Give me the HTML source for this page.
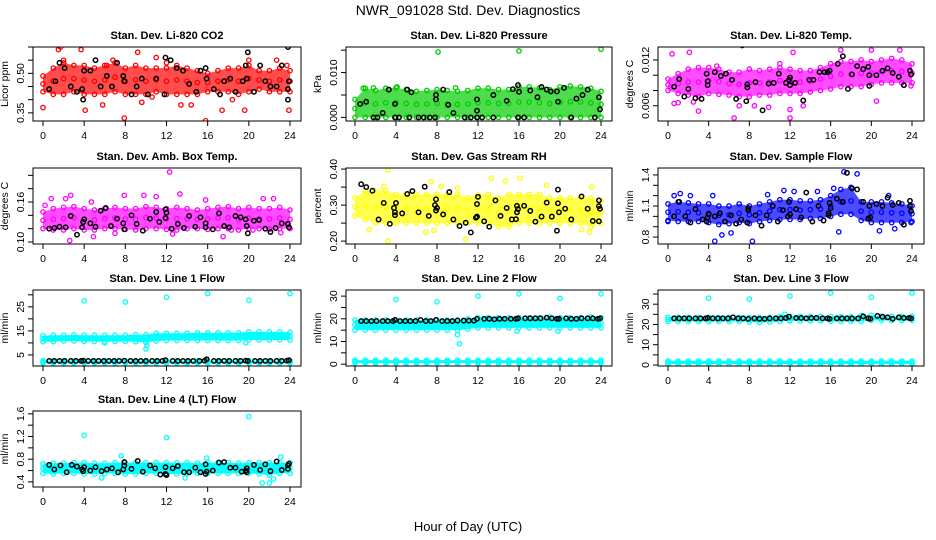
<!DOCTYPE html>
<html><head><meta charset="utf-8"><style>
html,body{margin:0;padding:0;background:#fff;}
svg{display:block;font-family:"Liberation Sans",sans-serif;}
</style></head><body>
<svg id="c" width="936" height="540" viewBox="0 0 936 540">
<text x="468" y="15" font-size="14" text-anchor="middle">NWR_091028  Std. Dev. Diagnostics</text>
<text x="468" y="531" font-size="13" text-anchor="middle">Hour of Day (UTC)</text>
</svg>
<script>
const hours=[0,1,2,3,4,5,6,7,8,9,10,11,12,13,14,15,16,17,18,19,20,21,22,23,24];
const xTicks=[0,4,8,12,16,20,24];
const lineHours=[0.6,1.1,1.6,2.1,2.7,3.2,3.7,3.9,4.4,4.9,5.4,5.9,6.4,6.9,7.4,7.9,8.5,9.0,9.5,10.0,10.6,11.1,11.6,11.9,12.6,13.1,13.6,14.1,14.6,15.2,15.7,15.9,16.6,17.1,17.6,18.1,18.7,19.2,19.7,19.9,20.6,21.1,21.6,22.1,22.7,23.2,23.7,23.9];

const co2Low=[0.43,0.42,0.42,0.43,0.42,0.42,0.42,0.43,0.42,0.42,0.42,0.43,0.42,0.42,0.42,0.42,0.43,0.43,0.43,0.42,0.43,0.44,0.43,0.43,0.43];
const co2High=[0.49,0.52,0.54,0.53,0.53,0.52,0.53,0.54,0.52,0.53,0.52,0.52,0.52,0.53,0.52,0.51,0.50,0.51,0.52,0.52,0.53,0.51,0.51,0.52,0.51];
const co2Out=[[0,0.37],[1.5,0.59],[1.7,0.6],[3.7,0.59],[4.1,0.36],[6.8,0.55],[7.9,0.33],[9.2,0.58],[11,0.56],[12,0.54],[15.8,0.32],[17.4,0.36],[19.6,0.36],[20,0.55],[23.9,0.36],[13.4,0.38],[14.4,0.38],[9.6,0.39],[5.8,0.38],[23.7,0.53],[22.7,0.55],[2,0.55],[6.2,0.53],[10.6,0.41],[18.4,0.4]];
const co2Black=[[0.6,0.44],[1.2,0.47],[1.6,0.54],[2.1,0.52],[2.7,0.45],[3.3,0.43],[3.8,0.44],[3.9,0.40],[4,0.51],[4.6,0.51],[5.1,0.55],[5.6,0.45],[6.2,0.49],[6.7,0.45],[7.2,0.54],[7.8,0.49],[7.9,0.47],[8.6,0.42],[9.1,0.45],[9.6,0.48],[10.2,0.42],[11,0.48],[11.8,0.42],[11.9,0.56],[12.4,0.55],[13,0.52],[13.6,0.51],[14.2,0.46],[14.9,0.43],[15.3,0.51],[15.8,0.52],[15.9,0.48],[16.6,0.44],[17.2,0.42],[17.6,0.47],[18.2,0.48],[18.7,0.43],[19.4,0.47],[19.8,0.48],[19.7,0.53],[19.9,0.58],[20.5,0.43],[21.1,0.53],[21.6,0.47],[22.1,0.45],[22.7,0.45],[23.2,0.53],[23.8,0.44],[23.9,0.47],[23.8,0.40],[23.8,0.60]];

const presLow=[0,0,0,0,0,0,0,0,0,0,0,0,0,0,0,0,0,0,0,0,0,0,0,0,0];
const presHigh=[0.004,0.0065,0.006,0.0065,0.0066,0.0062,0.0058,0.006,0.0062,0.006,0.0058,0.006,0.0065,0.0065,0.0062,0.0062,0.0068,0.0068,0.0066,0.0062,0.0068,0.007,0.0068,0.0065,0.0058];
const presOut=[[8.1,0.0146],[16,0.0148],[24,0.0152],[0.8,0.0065],[1.8,0.0066],[4.1,0.0068],[9.8,0.0066]];
const presBlack=[[1.8,0],[2.2,0],[3.9,0],[4.3,0],[5.3,0],[6.2,0],[6.7,0],[7.3,0],[7.8,0],[10.7,0],[11.3,0],[11.9,0],[12.4,0],[13.5,0],[15.9,0],[16.5,0],[21.1,0],[23.4,0],[0.5,0.003],[1.1,0.0035],[2.7,0.001],[3.3,0.0062],[3.9,0.003],[5.1,0.0062],[5.5,0.0056],[7.9,0.004],[7.9,0.005],[8.6,0.0062],[9.1,0.0028],[9.6,0.001],[11.9,0.004],[11.9,0.0015],[13.5,0.005],[14.8,0.0037],[15.4,0.0063],[15.9,0.0072],[16,0.0057],[17.1,0.006],[17.8,0.0045],[18.2,0.0068],[18.7,0.0062],[19.1,0.0058],[19.7,0.0058],[19.8,0.0035],[20.4,0.0066],[21.6,0.0042],[22.2,0.005],[22.7,0.0062],[23.8,0.0045],[23.9,0.0018]];

const tempLow=[0.008,0.0076,0.0074,0.0072,0.0076,0.0075,0.0074,0.0072,0.0072,0.0074,0.0074,0.0076,0.0076,0.0076,0.0078,0.008,0.0082,0.0085,0.0085,0.0085,0.0088,0.009,0.009,0.009,0.009];
const tempHigh=[0.0095,0.0102,0.0108,0.011,0.011,0.0108,0.0104,0.0104,0.0108,0.0106,0.0108,0.011,0.0108,0.0106,0.0106,0.011,0.0115,0.0118,0.0118,0.012,0.0118,0.012,0.0122,0.012,0.0115];
const tempOut=[[0.4,0.0128],[2.1,0.013],[3,0.0053],[0.6,0.0063],[1,0.0064],[6.5,0.0044],[7,0.006],[8.5,0.006],[9.9,0.0058],[12,0.0044],[12,0.0055],[12.3,0.013],[17,0.0133],[20,0.0133],[20.5,0.0066],[22.8,0.0133],[23.9,0.0086],[13.3,0.006],[2.5,0.0065],[4.8,0.0112],[11,0.0115]];
const tempBlack=[[0.6,0.0085],[1.1,0.0095],[1.6,0.0072],[2,0.0082],[2.7,0.007],[3.3,0.0069],[3.8,0.0102],[3.9,0.0087],[3.9,0.0092],[4.6,0.0104],[5.2,0.0099],[5.7,0.0102],[6.3,0.0094],[6.7,0.0069],[7.3,0.0139],[7.8,0.0084],[7.8,0.0088],[7.7,0.0066],[8.6,0.0091],[9.3,0.0054],[9.9,0.0089],[10.4,0.009],[10.9,0.0102],[11.6,0.009],[11.9,0.0094],[12,0.0097],[12,0.0087],[12.5,0.009],[13.3,0.0067],[13.9,0.0094],[14.3,0.0094],[14.9,0.0104],[15.4,0.0104],[15.7,0.0104],[15.9,0.0106],[16.7,0.0115],[17.2,0.0125],[17.7,0.0082],[18.1,0.0101],[18.6,0.0112],[19.2,0.0108],[19.7,0.0111],[19.8,0.01],[19.8,0.0086],[20.5,0.01],[21.1,0.0106],[21.6,0.0109],[22.1,0.0103],[22.7,0.0098],[23.2,0.0087],[23.8,0.0106],[23.9,0.0101]];

const ambLow=[0.12,0.118,0.118,0.12,0.118,0.118,0.12,0.12,0.119,0.118,0.12,0.12,0.119,0.118,0.12,0.12,0.119,0.12,0.12,0.118,0.12,0.12,0.119,0.12,0.12];
const ambHigh=[0.145,0.15,0.152,0.153,0.15,0.148,0.15,0.152,0.15,0.15,0.153,0.152,0.15,0.152,0.15,0.148,0.15,0.152,0.153,0.15,0.152,0.15,0.15,0.152,0.148];
const ambOut=[[0.2,0.155],[0.8,0.165],[2.2,0.165],[2.7,0.17],[2.6,0.102],[4.7,0.16],[7.9,0.17],[9.8,0.17],[11,0.168],[12.3,0.205],[13.3,0.172],[15.8,0.163],[17.5,0.108],[18.3,0.118],[21.4,0.165],[20.4,0.118],[23.1,0.114],[4.9,0.108],[7,0.113],[22.4,0.165],[12.6,0.112]];
const ambBlack=[[0.6,0.12],[1.1,0.121],[1.6,0.123],[2.2,0.122],[2.7,0.139],[3.3,0.111],[3.8,0.122],[3.9,0.13],[4,0.134],[4.6,0.128],[5.1,0.123],[5.6,0.147],[6.1,0.151],[6.6,0.124],[7.2,0.135],[7.8,0.128],[7.9,0.119],[8.6,0.14],[9.1,0.127],[9.7,0.117],[10.4,0.135],[11,0.145],[11.3,0.13],[11.9,0.149],[12,0.144],[11.9,0.136],[12.5,0.12],[13.1,0.127],[13.7,0.121],[14.2,0.139],[14.8,0.123],[15.3,0.137],[15.8,0.128],[15.8,0.122],[16.5,0.119],[17.1,0.143],[17.6,0.124],[18.1,0.122],[18.7,0.139],[19.2,0.137],[19.7,0.134],[19.8,0.124],[19.9,0.113],[20.5,0.132],[21,0.133],[21.6,0.12],[22.1,0.115],[22.6,0.121],[23.2,0.128],[23.8,0.127],[23.9,0.122]];

const rhLow=[0.27,0.26,0.25,0.25,0.25,0.25,0.25,0.25,0.25,0.25,0.25,0.25,0.25,0.25,0.24,0.24,0.25,0.25,0.25,0.25,0.25,0.25,0.25,0.24,0.25];
const rhHigh=[0.32,0.34,0.34,0.34,0.33,0.33,0.33,0.33,0.33,0.33,0.33,0.32,0.33,0.33,0.32,0.33,0.33,0.33,0.33,0.32,0.32,0.32,0.32,0.32,0.31];
const rhOut=[[3.2,0.398],[3.2,0.2],[10.8,0.205],[13.3,0.375],[16.1,0.375],[7.4,0.365],[14.7,0.367],[23.1,0.35],[18.7,0.355],[6.9,0.225],[7.7,0.23],[1.4,0.232],[22.1,0.232],[22.9,0.225],[2.8,0.352],[8.4,0.352],[10,0.347]];
const rhBlack=[[0.6,0.358],[1.1,0.35],[1.7,0.34],[2.3,0.26],[2.8,0.306],[3.4,0.248],[3.8,0.292],[3.9,0.28],[3.9,0.272],[4,0.306],[4.6,0.277],[5.1,0.331],[5.6,0.339],[6.2,0.28],[6.8,0.351],[7.2,0.27],[7.8,0.3],[7.9,0.316],[7.9,0.285],[8,0.292],[8.6,0.274],[9.2,0.336],[9.6,0.26],[10.2,0.242],[10.8,0.251],[11.3,0.224],[11.8,0.265],[11.9,0.303],[12,0.323],[11.9,0.268],[12.6,0.255],[13.1,0.24],[13.7,0.313],[14.2,0.27],[14.8,0.292],[15.3,0.26],[15.7,0.261],[15.8,0.28],[15.9,0.289],[15.8,0.298],[16.5,0.298],[17.1,0.284],[17.6,0.254],[18.2,0.268],[18.7,0.307],[19.2,0.268],[19.7,0.229],[19.8,0.305],[19.8,0.343],[19.9,0.28],[20.5,0.29],[21.1,0.26],[22.1,0.324],[22.7,0.29],[23.2,0.256],[23.8,0.313],[23.8,0.297],[23.9,0.29],[23.8,0.255]];

const flowLow=[0.96,0.95,0.95,0.95,0.94,0.92,0.93,0.94,0.93,0.95,0.96,0.97,0.97,0.97,0.98,0.98,1.0,1.02,1.02,0.96,0.94,0.94,0.94,0.94,0.95];
const flowHigh=[1.12,1.14,1.13,1.12,1.12,1.1,1.1,1.12,1.1,1.12,1.14,1.16,1.16,1.15,1.15,1.16,1.2,1.26,1.28,1.14,1.14,1.14,1.13,1.12,1.1];
const flowOut=[[0,0.95],[0.6,1.2],[1.2,1.22],[4.6,0.76],[8.3,0.76],[5.3,0.82],[9.8,1.21],[11.4,1.25],[12.4,1.24],[14.7,1.24],[16.3,1.27],[16.8,0.85],[17.3,1.43],[18.6,1.41],[23.9,0.94],[22.3,0.88],[2.2,1.2],[4.4,1.2],[6.2,0.84],[20.8,0.86],[21.7,1.2]];
const flowBlack=[[0.6,1.0],[1.1,1.14],[1.7,1.0],[2.2,0.94],[2.7,1.07],[3.4,0.97],[3.8,0.95],[3.9,0.99],[4,1.02],[4.6,1.0],[5.1,1.03],[5.6,0.95],[6.2,1.01],[6.7,0.93],[7.2,0.97],[7.8,0.94],[7.9,1.08],[7.9,1.06],[8.6,1.01],[9.2,0.91],[9.7,1.01],[10.3,1.1],[10.8,0.95],[11.3,1.06],[11.8,1.0],[11.9,1.14],[12,1.02],[12.6,1.07],[13.1,0.99],[13.6,1.23],[14.2,0.95],[14.8,1.1],[15.3,0.96],[15.8,1.01],[15.8,1.03],[15.9,1.13],[16,1.08],[16.6,1.17],[17.2,1.14],[17.6,1.42],[18.1,1.27],[18.6,1.26],[19.2,1.14],[19.7,0.98],[19.8,1.1],[19.9,0.99],[20.5,1.12],[21.1,1.1],[21.6,1.18],[22.1,1.11],[22.7,1.13],[23.2,0.92],[23.8,1.15],[23.8,1.1],[23.9,1.05]];

const line1Low=[10.5,10.5,10.8,10.8,10.6,10.6,10.5,10.6,10.6,10.5,10.2,10.8,11,11,11,11,11,11,11,11,11.2,11.2,11.2,11.2,11.2];
const line1High=[13,13.2,13.2,13.3,13.2,13.2,13.2,13.2,13.2,13.4,13.4,14,14,14,14,14.2,14.2,14.2,14.2,14.2,14.6,14.6,14.6,14.6,14.4];
const line1BaseLow=[1.6,1.6,1.6,1.6,1.6,1.6,1.6,1.6,1.6,1.6,1.6,1.6,1.6,1.6,1.6,1.6,1.6,1.6,1.6,1.6,1.6,1.6,1.6,1.6,1.6];
const line1BaseHigh=[2.6,2.6,2.6,2.6,2.6,2.6,2.6,2.6,2.6,2.6,2.6,2.6,2.6,2.6,2.6,2.6,2.6,2.6,2.6,2.6,2.6,2.6,2.6,2.6,2.6];
const line1Out=[[4,27.5],[8,27],[12,29],[16,30.5],[20,27.7],[24,30.5],[10,7.5],[10.1,9],[6,10],[19.7,10]];
const line1Black=[2.5,2.5,2.5,2.5,2.5,2.5,2.5,2.6,2.5,2.5,2.5,2.5,2.5,2.5,2.5,2.6,2.5,2.5,2.5,2.5,2.5,2.5,2.5,2.8,2.5,2.5,2.5,2.5,2.5,2.5,2.6,3.2,2.5,2.5,2.5,2.5,2.5,2.5,2.6,2.5,2.5,2.5,2.5,2.5,2.5,2.5,2.6,2.8];

const line2Low=[15,15,15,15,15,15,15,15,15,15,15,15.5,16,16,16,16,16,16,16,16,16,16,16,16,16];
const line2High=[19.5,19.5,19.5,19.5,19.5,19.5,19.5,19.5,19.5,19.5,19.5,20,20.5,20.5,20.5,20.5,20.5,20.5,20.5,20.8,20.5,20.5,20.5,20.8,20.5];
const line2BaseLow=[0.5,0.5,0.5,0.5,0.5,0.5,0.5,0.5,0.5,0.5,0.5,0.5,0.5,0.5,0.5,0.5,0.5,0.5,0.5,0.5,0.5,0.5,0.5,0.5,0.5];
const line2BaseHigh=[1.8,1.8,1.8,1.8,1.8,1.8,1.8,1.8,1.8,1.8,1.8,1.8,1.8,1.8,1.8,1.8,1.8,1.8,1.8,1.8,1.8,1.8,1.8,1.8,1.8];
const line2Out=[[4,28.5],[8,27.5],[12,30],[16,31],[20,29],[24,31],[10,13],[10.2,9],[15.8,14.5],[19.8,14.5],[0.2,16.5]];
const line2Black=[19,19,19,19,19,19,19,19.5,19,19,19,19,19.5,19,19,19.5,19,19,19,19.2,19.2,19.2,19.2,20,20,20,19.8,20,20,20,20,20.2,20.2,20.2,20.2,20.2,20.5,20.2,20,20,20.2,20,20,20.2,20.2,20.2,20,20.2];

const line3Low=[21.5,21.5,21.5,21.5,21.5,21.5,21.5,21.5,21.2,21,21.2,21.5,21.8,21.8,21.8,21.8,21.5,21.5,21.5,21.5,22,22,22,22,22];
const line3High=[23.5,23.5,23.5,23.5,23.5,23.5,23.5,23.5,23.5,23.5,23.5,24,24,24,24,24,24,23.8,23.8,24.5,24.5,24,24,24,24];
const line3BaseLow=[0.5,0.5,0.5,0.5,0.5,0.5,0.5,0.5,0.5,0.5,0.5,0.5,0.5,0.5,0.5,0.5,0.5,0.5,0.5,0.5,0.5,0.5,0.5,0.5,0.5];
const line3BaseHigh=[2,2,2,2,2,2,2,2,2,2,2,2,2,2,2,2,2,2,2,2,2,2,2,2,2];
const line3Out=[[4,33],[8,32.5],[12,34],[16,35.5],[20,33.5],[24,35.5],[11.5,25]];
const line3Black=[23,23,23,23,23,23,23,23.2,23,23,23,23,23.5,23,23,22.8,23,22.8,22.8,23,23,23,23.2,23.8,23.2,23.2,23,23.2,23.2,23,23,22.8,23,23,23,23,23,24,23,22.8,24.2,23.8,23.5,22.8,23.5,23.2,23.2,23];

const lt4Low=[0.55,0.54,0.55,0.55,0.54,0.54,0.55,0.55,0.54,0.54,0.55,0.55,0.54,0.54,0.55,0.55,0.55,0.55,0.55,0.55,0.55,0.54,0.52,0.55,0.55];
const lt4High=[0.72,0.73,0.73,0.74,0.74,0.73,0.73,0.74,0.74,0.74,0.74,0.74,0.74,0.74,0.74,0.73,0.74,0.74,0.74,0.73,0.74,0.74,0.74,0.74,0.74];
const lt4Out=[[4,1.22],[12,1.18],[20,1.55],[7.6,0.86],[21.3,0.38],[22,0.38],[15.9,0.82],[23.1,0.84],[5.7,0.47],[13.8,0.47],[22.4,0.45]];
const lt4Black=[[0.6,0.7],[1.1,0.62],[1.7,0.69],[2.3,0.57],[2.8,0.7],[3.3,0.67],[3.8,0.62],[3.9,0.59],[4,0.66],[4.6,0.6],[5.1,0.66],[5.7,0.59],[6.2,0.62],[6.7,0.64],[7.3,0.57],[7.8,0.62],[7.9,0.69],[7.9,0.75],[8.6,0.63],[9.2,0.77],[9.7,0.58],[10.4,0.69],[10.9,0.64],[11.4,0.53],[11.9,0.54],[11.9,0.66],[12,0.52],[12.6,0.64],[13.1,0.68],[13.7,0.57],[14.2,0.57],[14.8,0.65],[15.3,0.57],[15.8,0.54],[15.8,0.71],[15.9,0.58],[16.5,0.6],[17.1,0.74],[17.6,0.75],[18.2,0.65],[18.7,0.65],[19.3,0.58],[19.7,0.6],[19.8,0.57],[19.8,0.64],[20.5,0.7],[21.1,0.61],[21.6,0.71],[22.1,0.59],[22.7,0.76],[23.2,0.61],[23.8,0.63],[23.8,0.69],[23.9,0.72]];

const NS='http://www.w3.org/2000/svg';
const svg=document.getElementById('c');
const cols=[{l:33,r:301,x0:43,x1:290},{l:346,r:612,x0:355,x1:601},{l:658,r:924,x0:668,x1:912}];
const rows=[{t:47,b:121},{t:168,b:244},{t:290,b:366},{t:411,b:487}];
function el(tag,attrs,parent){const e=document.createElementNS(NS,tag);for(const k in attrs)e.setAttribute(k,attrs[k]);(parent||svg).appendChild(e);return e;}
function blackPairs(ys){return lineHours.map((h,i)=>[h,ys[i]]);}

const panels=[
{key:'co2',title:'Stan. Dev. Li-820 CO2',ylab:'Licor ppm',col:0,row:0,ymin:0.319,ymax:0.60,ticks:[0.35,0.40,0.45,0.50,0.55,0.60],labels:['0.35','0.50'],labelAt:[0.35,0.50],color:'#ff0000',op:0.7,bands:[[co2Low,co2High]],out:co2Out,black:co2Black},
{key:'pressure',title:'Stan. Dev. Li-820 Pressure',ylab:'kPa',col:1,row:0,ymin:-0.0008,ymax:0.0157,ticks:[0,0.005,0.010,0.015],labels:['0.000','0.010'],labelAt:[0,0.010],color:'#00cd00',op:0.7,bands:[[presLow,presHigh]],out:presOut,black:presBlack},
{key:'temp',title:'Stan. Dev. Li-820 Temp.',ylab:'degrees C',col:2,row:0,ymin:0.004,ymax:0.0137,ticks:[0.006,0.008,0.010,0.012],labels:['0.006','0.012'],labelAt:[0.006,0.012],color:'#ff00ff',op:0.7,bands:[[tempLow,tempHigh]],out:tempOut,black:tempBlack},
{key:'ambbox',title:'Stan. Dev. Amb. Box Temp.',ylab:'degrees C',col:0,row:1,ymin:0.097,ymax:0.211,ticks:[0.10,0.12,0.14,0.16,0.18,0.20],labels:['0.10','0.16'],labelAt:[0.10,0.16],color:'#ff00ff',op:0.7,bands:[[ambLow,ambHigh]],out:ambOut,black:ambBlack},
{key:'rh',title:'Stan. Dev. Gas Stream RH',ylab:'percent',col:1,row:1,ymin:0.192,ymax:0.403,ticks:[0.20,0.25,0.30,0.35,0.40],labels:['0.20','0.30','0.40'],labelAt:[0.20,0.30,0.40],color:'#ffff00',op:0.7,bands:[[rhLow,rhHigh]],out:rhOut,black:rhBlack},
{key:'sampleflow',title:'Stan. Dev. Sample Flow',ylab:'ml/min',col:2,row:1,ymin:0.733,ymax:1.467,ticks:[0.8,0.9,1.0,1.1,1.2,1.3,1.4],labels:['0.8','1.1','1.4'],labelAt:[0.8,1.1,1.4],color:'#0000ff',op:0.7,bands:[[flowLow,flowHigh]],out:flowOut,black:flowBlack},
{key:'line1',title:'Stan. Dev. Line 1 Flow',ylab:'ml/min',col:0,row:2,ymin:0.4,ymax:32,ticks:[5,10,15,20,25,30],labels:['5','15','25'],labelAt:[5,15,25],color:'#00ffff',op:1,bands:[[line1Low,line1High],[line1BaseLow,line1BaseHigh]],out:line1Out,black:blackPairs(line1Black)},
{key:'line2',title:'Stan. Dev. Line 2 Flow',ylab:'ml/min',col:1,row:2,ymin:-0.8,ymax:32.7,ticks:[0,5,10,15,20,25,30],labels:['0','10','20','30'],labelAt:[0,10,20,30],color:'#00ffff',op:1,bands:[[line2Low,line2High],[line2BaseLow,line2BaseHigh]],out:line2Out,black:blackPairs(line2Black)},
{key:'line3',title:'Stan. Dev. Line 3 Flow',ylab:'ml/min',col:2,row:2,ymin:-0.5,ymax:37,ticks:[0,5,10,15,20,25,30,35],labels:['0','10','20','30'],labelAt:[0,10,20,30],color:'#00ffff',op:1,bands:[[line3Low,line3High],[line3BaseLow,line3BaseHigh]],out:line3Out,black:blackPairs(line3Black)},
{key:'line4',title:'Stan. Dev. Line 4 (LT) Flow',ylab:'ml/min',col:0,row:3,ymin:0.31,ymax:1.65,ticks:[0.4,0.6,0.8,1.0,1.2,1.4,1.6],labels:['0.4','0.8','1.2','1.6'],labelAt:[0.4,0.8,1.2,1.6],color:'#00ffff',op:1,bands:[[lt4Low,lt4High]],out:lt4Out,black:lt4Black}
];

panels.forEach(p=>{
  const C=cols[p.col],R=rows[p.row];
  const xs=h=>C.x0+(C.x1-C.x0)*h/24;
  const ys=v=>R.b-(v-p.ymin)/(p.ymax-p.ymin)*(R.b-R.t);
  const g=el('g',{});
  
  
  const clipId='clip-'+p.key;
  const cp=el('clipPath',{id:clipId},g);el('rect',{x:C.l,y:R.t,width:C.r-C.l,height:R.b-R.t},cp);
  const data=el('g',{'clip-path':'url(#'+clipId+')'},g);
  p.bands.forEach((b,bi)=>{
    const lo=b[0],hi=b[1];
    let d='M'+hours.map((h,i)=>xs(h)+','+ys(hi[i])).join(' L');
    d+=' L'+hours.slice().reverse().map((h,j)=>{const i=hours.length-1-j;return xs(h)+','+ys(lo[i]);}).join(' L')+' Z';
    const band=el('path',{d:d,fill:p.color,'fill-opacity':p.op,stroke:'none'},data);
    
    
    hours.forEach((h,i)=>{
      [lo[i],hi[i],(lo[i]+hi[i])/2].forEach(v=>{
        const c=el('circle',{cx:xs(h),cy:ys(v),r:2.2,fill:'none',stroke:p.color,'stroke-width':1.3},data);
        
        
      });
    });
  });
  p.out.forEach(pt=>{
    const c=el('circle',{cx:xs(pt[0]),cy:ys(pt[1]),r:2.2,fill:'none',stroke:p.color,'stroke-width':1.3},data);
    
    
  });
  p.black.forEach(pt=>{
    const c=el('circle',{cx:xs(pt[0]),cy:ys(pt[1]),r:2.2,fill:'none',stroke:'#000','stroke-width':1.5},data);
    
    
  });
  const box=el('rect',{x:C.l,y:R.t,width:C.r-C.l,height:R.b-R.t,fill:'none',stroke:'#000','stroke-width':1},g);
  
  
  xTicks.forEach(t=>{
    const x=xs(t);
    el('line',{x1:x,y1:R.b,x2:x,y2:R.b+5,stroke:'#000'},g);
    const tx=el('text',{x:x,y:R.b+18,'font-size':10.5,'text-anchor':'middle'},g);
    tx.textContent=t;
    
    
  });
  p.ticks.forEach(t=>{const y=ys(t);el('line',{x1:C.l-5,y1:y,x2:C.l,y2:y,stroke:'#000'},g);});
  p.labels.forEach((lab,i)=>{
    const y=ys(p.labelAt[i]),x=C.l-9;
    const tx=el('text',{x:x,y:y,'font-size':10.5,'text-anchor':'middle',transform:'rotate(-90 '+x+' '+y+')'},g);
    tx.textContent=lab;
    
    
  });
  const yx=C.l-25,yy=(R.t+R.b)/2;
  const yl=el('text',{x:yx,y:yy,'font-size':10.5,'text-anchor':'middle',transform:'rotate(-90 '+yx+' '+yy+')'},g);
  yl.textContent=p.ylab;
  
  
  const tt=el('text',{x:(C.l+C.r)/2,y:R.t-8,'font-size':11,'font-weight':'bold','text-anchor':'middle'},g);
  tt.textContent=p.title;
  
  
});
</script>
</body></html>
